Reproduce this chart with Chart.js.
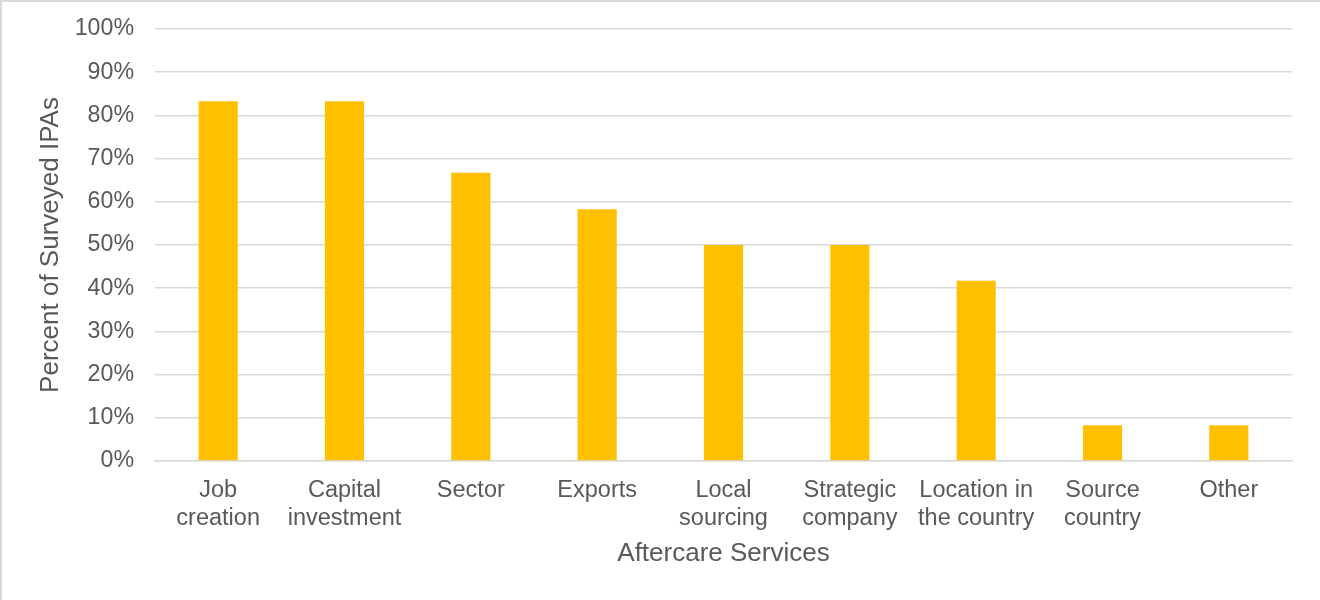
<!DOCTYPE html>
<html>
<head>
<meta charset="utf-8">
<style>
  html, body { margin: 0; padding: 0; background: #ffffff; }
  #wrap { width: 1320px; height: 600px; position: relative; }
</style>
<script src="https://cdn.jsdelivr.net/npm/chart.js@4/dist/chart.umd.min.js"></script>
</head>
<body>
<div id="wrap"><canvas id="chart" width="1320" height="600"></canvas></div>
<script>
// Aftercare services offered, share of surveyed IPAs
const categories = [
  ["Job", "creation"],
  ["Capital", "investment"],
  ["Sector"],
  ["Exports"],
  ["Local", "sourcing"],
  ["Strategic", "company"],
  ["Location in", "the country"],
  ["Source", "country"],
  ["Other"]
];
const shareValues = [83.3, 83.3, 66.7, 58.3, 50.0, 50.0, 41.7, 8.3, 8.3];
const yTickValues = [0, 10, 20, 30, 40, 50, 60, 70, 80, 90, 100];

const textColor = "#595959";
const gridColor = "#d9d9d9";
const fontFamily = "'Liberation Sans', Arial, sans-serif";

// white background plus thin frame on top and left edges
const framePlugin = {
  id: "frame",
  beforeDraw(chart) {
    const ctx = chart.ctx;
    ctx.save();
    ctx.fillStyle = "#ffffff";
    ctx.fillRect(0, 0, chart.width, chart.height);
    ctx.strokeStyle = "#d9d9d9";
    ctx.lineWidth = 2;
    ctx.beginPath();
    ctx.moveTo(1, chart.height);
    ctx.lineTo(1, 1);
    ctx.lineTo(chart.width, 1);
    ctx.stroke();
    ctx.restore();
  }
};

new Chart(document.getElementById("chart"), {
  type: "bar",
  data: {
    labels: categories,
    datasets: [{
      label: "Percent of Surveyed IPAs",
      data: shareValues,
      backgroundColor: "#ffc000",
      borderWidth: 0,
      barPercentage: 0.31,
      categoryPercentage: 1.0
    }]
  },
  options: {
    responsive: false,
    animation: false,
    devicePixelRatio: 1,
    layout: { padding: { left: 35, right: 28, top: 29, bottom: 31 } },
    plugins: {
      legend: { display: false },
      tooltip: { enabled: false }
    },
    scales: {
      x: {
        grid: { display: false, drawTicks: false },
        border: { display: true, color: gridColor, width: 1.5 },
        ticks: {
          color: textColor,
          font: { family: fontFamily, size: 23.5, lineHeight: 1.19 },
          padding: 16,
          maxRotation: 0,
          autoSkip: false
        },
        title: {
          display: true,
          text: "Aftercare Services",
          color: textColor,
          font: { family: fontFamily, size: 26 },
          padding: { top: 6, bottom: 0 }
        },
        afterFit(scale) {
          scale.height = 108;
          scale.paddingLeft = 0;
          scale.paddingRight = 0;
        }
      },
      y: {
        min: 0,
        max: 100,
        afterBuildTicks(scale) {
          scale.ticks = yTickValues.map(v => ({ value: v }));
        },
        grid: { color: gridColor, lineWidth: 1.5, drawTicks: false },
        border: { display: false },
        ticks: {
          color: textColor,
          font: { family: fontFamily, size: 23.2 },
          padding: 21,
          callback: v => v + "%"
        },
        title: {
          display: true,
          text: "Percent of Surveyed IPAs",
          color: textColor,
          font: { family: fontFamily, size: 26 },
          padding: { top: 0, bottom: 12 }
        },
        afterFit(scale) {
          scale.width = 120;
          scale.paddingTop = 0;
          scale.paddingBottom = 0;
        }
      }
    }
  },
  plugins: [framePlugin]
});
</script>
</body>
</html>
